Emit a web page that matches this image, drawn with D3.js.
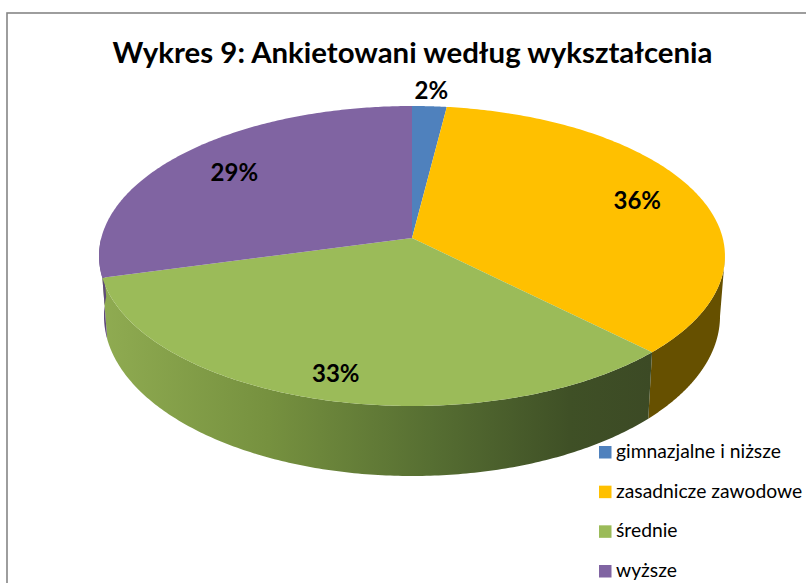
<!DOCTYPE html>
<html>
<head>
<meta charset="utf-8">
<script src="https://cdn.jsdelivr.net/npm/d3@7"></script>
<style>
html,body{margin:0;padding:0;background:#fff}
svg{display:block}
text{font-family:Lato,"Open Sans",sans-serif;fill:#000}
</style>
</head>
<body>
<svg id="c" width="806" height="583"></svg>
<script>
const titleText = "Wykres 9: Ankietowani według wykształcenia";
const categories = ["gimnazjalne i niższe", "zasadnicze zawodowe", "średnie", "wyższe"];
const values = [2.0, 35.5, 33.3, 29.2];
const colors = ["#4f81bd", "#ffc000", "#9bbb59", "#8064a2"];
const wallColors = ["#2f4d71", "#665000", "#9bbb59", "#5f4a7a"];

const svg = d3.select("#c");
const W = 806, H = 583;

// Perspective disc: the pie's circle projected onto two parallel planes.
const persp = 0.12;
const cx = 412;
const topFace = {y0: 238, a: 147.84, b: 310.7};
const botFace = {y0: 296.8, a: 157.7, b: 305.8};
function project(face, angle, r = 1) {
  const u = Math.sin(angle) * r, v = -Math.cos(angle) * r;
  const d = 1 - persp * v;
  return [cx + face.b * u / d, face.y0 + face.a * v / d];
}
function arcPoints(face, a0, a1) {
  return d3.range(0, 181).map(i => project(face, a0 + (a1 - a0) * i / 180));
}
const line = d3.line();

const slices = d3.pie().sort(null).value(d => d)(values);

// Frame
svg.append("rect").attr("x", 7).attr("y", 13).attr("width", W + 20).attr("height", H + 20)
  .attr("fill", "#fff").attr("stroke", "#868686").attr("stroke-width", 1.6);

// Gradient for the front wall
const grad = svg.append("defs").append("linearGradient").attr("id", "wall")
  .attr("gradientUnits", "userSpaceOnUse").attr("x1", 104).attr("x2", 652).attr("y1", 0).attr("y2", 0);
[[0, "#8fab51"], [0.3, "#76913f"], [0.6, "#566e32"], [0.85, "#3f5026"], [1, "#3c4a25"]]
  .forEach(([o, c]) => grad.append("stop").attr("offset", o).attr("stop-color", c));

// Walls: only the front half (between the silhouette angles) is visible
const silhouetteR = Math.PI / 2 + Math.asin(persp);
const silhouetteL = 2 * Math.PI - silhouetteR;
const g = svg.append("g");
slices.forEach((s, i) => {
  const a0 = Math.max(s.startAngle, silhouetteR), a1 = Math.min(s.endAngle, silhouetteL + 0.12);
  if (a1 <= a0) return;
  const pts = arcPoints(topFace, a0, a1).concat(arcPoints(botFace, a0, a1).reverse());
  g.append("path").attr("d", line(pts) + "Z")
    .attr("fill", i === 2 ? "url(#wall)" : wallColors[i]);
});

// Top faces
const apex = [cx, topFace.y0];
slices.forEach((s, i) => {
  const pts = [apex].concat(arcPoints(topFace, s.startAngle, s.endAngle));
  svg.append("path").attr("d", line(pts) + "Z").attr("fill", colors[i]);
});

// Data labels
const labelRadius = [1.13, 0.79, 0.857, 0.76];
slices.forEach((s, i) => {
  const p = project(topFace, (s.startAngle + s.endAngle) / 2, labelRadius[i]);
  svg.append("text").attr("x", p[0]).attr("y", p[1] + 8).attr("text-anchor", "middle")
    .attr("font-size", 24).attr("font-weight", 700).text(d3.format(".0f")(s.value) + "%");
});

// Title
svg.append("text").attr("x", 412.5).attr("y", 63).attr("text-anchor", "middle")
  .attr("font-size", 29.4).attr("font-weight", 700).text(titleText);

// Legend
const legendY = d3.scalePoint().domain(categories).range([446, 565]);
categories.forEach((c, i) => {
  svg.append("rect").attr("x", 599).attr("y", legendY(c)).attr("width", 12.5).attr("height", 12.5).attr("fill", colors[i]);
  svg.append("text").attr("x", 616).attr("y", legendY(c) + 12).attr("font-size", 19.3).text(c);
});
</script>
</body>
</html>
